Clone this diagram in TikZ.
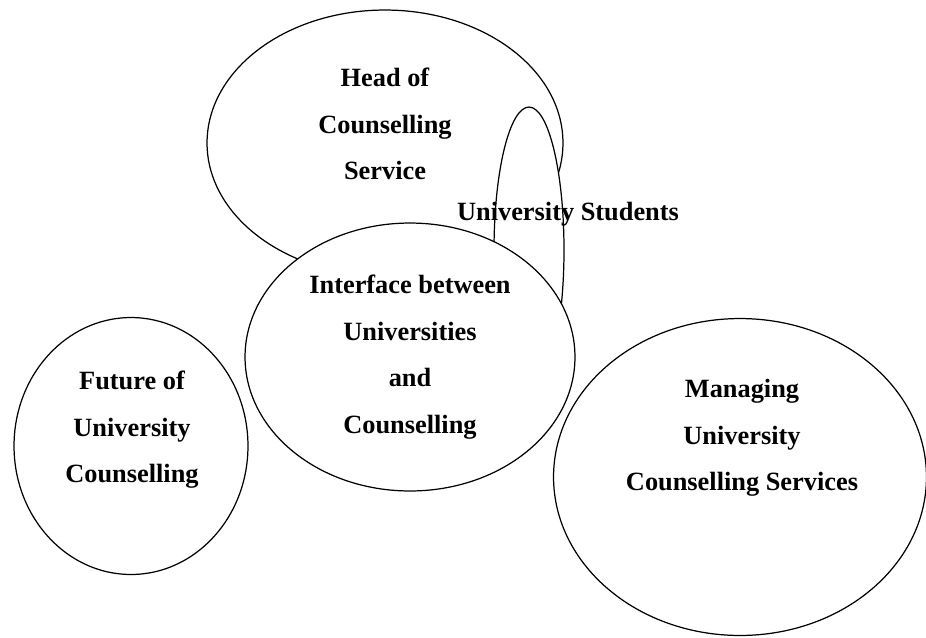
\documentclass[tikz,border=0pt]{standalone}
\usepackage{fontspec}
\setmainfont{Liberation Serif}
\usetikzlibrary{shapes.geometric}

\tikzset{
  bubble/.style={draw, ellipse, fill=white, line width=0.7pt, inner sep=0pt},
  caption/.style={font=\bfseries\fontsize{15}{26.5}\selectfont, align=center, inner sep=0pt},
}

\begin{document}
\begin{tikzpicture}[x=0.02cm,y=-0.02cm]
        \useasboundingbox (0,0) rectangle (926,637);
        % head of service, students ellipse sits on top of it
        \node[bubble, minimum width=7.12cm, minimum height=5.32cm] (head) at (385,143) {};
        \node[bubble, minimum width=1.4cm, minimum height=5.72cm] (students) at (529,250) {};
        \node[caption] (headtxt) at (385,124) {Head of\\Counselling\\Service};
        \node[caption] (studtxt) at (568,214) {University Students};
        % interface covers the lower parts of both
        \node[bubble, minimum width=6.6cm, minimum height=5.36cm] (iface) at (410,357) {};
        \node[caption] (ifacetxt) at (410,357) {Interface between\\Universities\\and\\Counselling};
        \node[bubble, minimum width=4.68cm, minimum height=5.14cm] (future) at (131,446) {};
        \node[caption] (futuretxt) at (132,430) {Future of\\University\\Counselling};
        \node[bubble, minimum width=7.46cm, minimum height=6.34cm] (manage) at (740,477) {};
        \node[caption] (managetxt) at (742,438) {Managing\\University\\Counselling Services};
      \end{tikzpicture}
\end{document}
